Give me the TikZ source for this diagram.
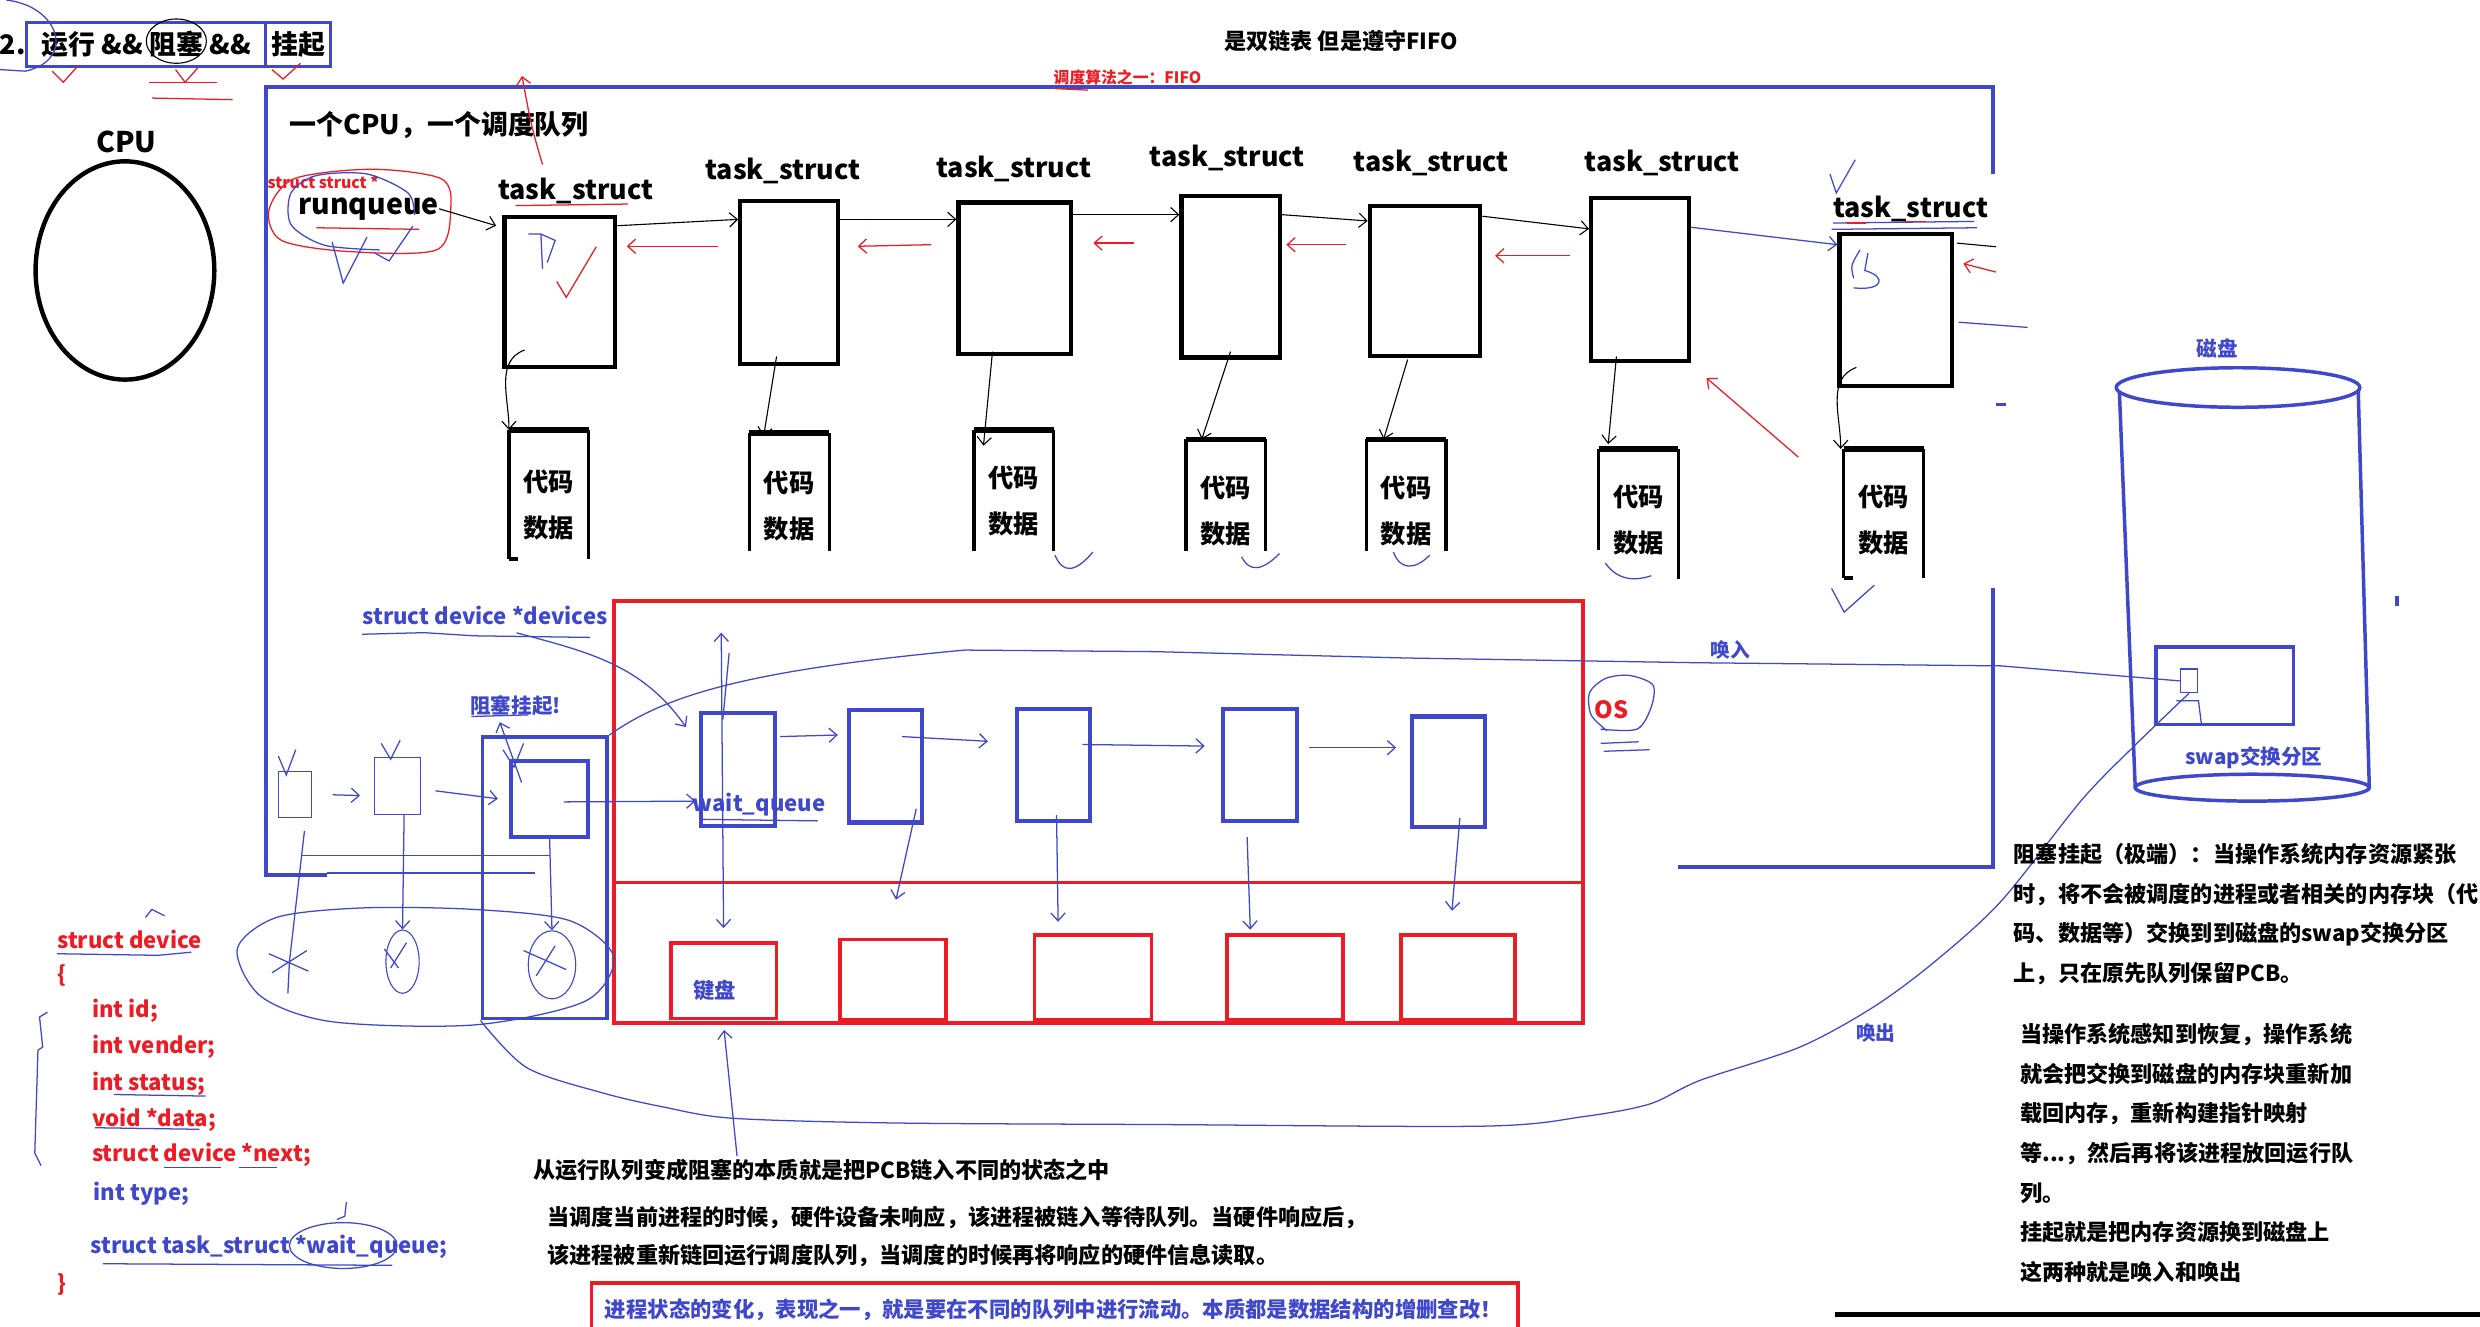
\documentclass[tikz,border=0pt]{standalone}
\usepackage{fontspec}
\setmainfont{Noto Sans CJK SC}
\usetikzlibrary{positioning,arrows.meta,shapes.geometric,calc}
\definecolor{paintblue}{RGB}{63,72,204}
\definecolor{paintred}{RGB}{237,28,36}

\begin{document}
\begin{tikzpicture}[x=1pt,y=-1pt,every node/.style={inner sep=0pt,font=\bfseries},
  txtbig/.style={font=\bfseries\fontsize{17}{20}\selectfont},
  txtmid/.style={font=\bfseries\fontsize{14}{17}\selectfont},
  txtsmall/.style={font=\bfseries\fontsize{10}{12}\selectfont},
  titlebox/.style={draw=paintblue,line width=1.8pt,minimum height=28pt,txtbig},
  tsbox/.style={draw,line width=2.6pt,minimum width=70pt,minimum height=95pt},
  tslabel/.style={font=\bfseries\fontsize{17}{20}\selectfont},
  cdbox/.style={minimum width=50pt},
  cdside/.style={line width=2pt},
  cdtop/.style={line width=3.4pt},
  cdtext/.style={align=center,font=\bfseries\fontsize{16}{29}\selectfont},
  wqbox/.style={draw=paintblue,line width=2.6pt,minimum width=47pt,minimum height=71pt},
  devbox/.style={draw=paintred,line width=2.4pt,minimum height=51pt},
  codeline/.style={anchor=west,font=\bfseries\fontsize{14}{17}\selectfont},
  pen/.style={line width=0.7pt},
  bluepen/.style={draw=paintblue,line width=0.8pt},
  redpen/.style={draw=paintred,line width=0.8pt},
  hand/.style={-{Straight Barb[length=5pt,width=9pt]}},
  diskline/.style={draw=paintblue,line width=2.2pt}]
  \useasboundingbox[fill=white] (0,0) rectangle (1568,839);

  % title
  \node[txtbig] (num) at (8,28) {2.};
  \node[titlebox,minimum width=151pt] (tb1) at (92.5,28) {运行 \&\& 阻塞 \&\&};
  \node[titlebox,minimum width=41pt] (tb2) at (188.5,28) {挂起};
  \draw[pen] (111.5,26) ellipse (19 and 14);
  \draw[bluepen] (4,0) .. controls (38,4) and (48,38) .. (16,45) -- (0,44);
  \draw[redpen] (33,45) -- (40,52) -- (49,42);
  \draw[redpen] (111,44) -- (117,52) -- (125,43);
  \draw[redpen] (94,52) -- (137,52);
  \draw[redpen] (96,62) -- (147,63);
  \draw[redpen] (172,44) -- (179,50) -- (190,40);

  % cpu
  \node[font=\bfseries\fontsize{18}{20}\selectfont] (cpulbl) at (80,90) {CPU};
  \node[draw,ellipse,line width=2.8pt,minimum width=113pt,minimum height=138pt] (cpu) at (79,171) {};

  % memory frame
  \draw[paintblue,line width=2.4pt] (1260,110) -- (1260,55) -- (168,55) -- (168,553) -- (207,553);
  \draw[paintblue,line width=2.4pt] (1260,372) -- (1260,548) -- (1061,548);

  % top notes
  \node[txtmid] (dll) at (848,26) {是双链表 但是遵守FIFO};
  \node[txtsmall,text=paintred,anchor=west] (fifo) at (666,49) {调度算法之一：FIFO};
  \draw[redpen] (667,56) -- (688,57);
  \node[txtbig,anchor=west] (onecpu) at (183,79) {一个CPU，一个调度队列};
  \coordinate (rtail) at (343,104);
  \draw[redpen,hand] (rtail) .. controls (336,80) .. (330,48);

  % runqueue
  \node[txtsmall,text=paintred,anchor=west] (rqtype) at (169,115) {struct struct *};
  \node[font=\bfseries\fontsize{18}{20}\selectfont] (rq) at (233,132) {runqueue};
  \draw[redpen] plot[smooth cycle] coordinates {(170,133) (186,113) (235,107) (279,113) (285,132) (276,158) (220,159) (178,152)};
  \draw[bluepen] plot[smooth] coordinates {(240,158) (205,155) (184,142) (184,122) (200,111) (232,110) (258,122) (262,136)};
  \draw[redpen] (200,144) -- (265,145);
  \draw[bluepen] (210,153) -- (217,179) -- (232,150);
  \draw[bluepen] (237,160) -- (246,165) -- (261,143);

  % task_struct queue
  \node[tsbox] (ts1) at (354,184.5) {};
  \node[tsbox,minimum width=62pt,minimum height=103pt] (ts2) at (499,178.5) {};
  \node[tsbox,minimum width=71pt,minimum height=96pt] (ts3) at (641.5,176) {};
  \node[tsbox,minimum width=62pt,minimum height=102pt] (ts4) at (778,175) {};
  \node[tsbox] (ts5) at (901,177.5) {};
  \node[tsbox,minimum width=62pt,minimum height=103pt] (ts6) at (1037,176.5) {};
  \node[tsbox,minimum width=71pt,minimum height=96pt] (ts7) at (1198.5,196) {};
  \node[tslabel] (tl1) at (364,121) {task\_struct};
  \node[tslabel] (tl2) at (495,108) {task\_struct};
  \node[tslabel] (tl3) at (641,107) {task\_struct};
  \node[tslabel] (tl4) at (776,100) {task\_struct};
  \node[tslabel] (tl5) at (905,103) {task\_struct};
  \node[tslabel] (tl6) at (1051,103) {task\_struct};
  \node[tslabel] (tl7) at (1208,132) {task\_struct};

  \draw[pen,hand] (rq.east) -- ($(ts1.north west)+(-4,7)$);
  \draw[pen,hand] ($(ts1.north east)+(0,7)$) -- ($(ts2.north west)+(0,13)$);
  \draw[pen,hand] ($(ts2.north east)+(0,13)$) -- ($(ts3.north west)+(0,12)$);
  \draw[pen,hand] ($(ts3.north east)+(0,9)$) -- ($(ts4.north west)+(0,13)$);
  \draw[pen,hand] ($(ts4.north east)+(0,13)$) -- ($(ts5.north west)+(0,11)$);
  \draw[pen,hand] ($(ts5.north east)+(0,8)$) -- ($(ts6.north west)+(0,21)$);
  \draw[bluepen,hand] ($(ts6.north east)+(0,20)$) -- ($(ts7.north west)+(0,8)$);
  \coordinate (qend) at (1262,156);
  \draw[pen] ($(ts7.north east)+(2,7)$) -- (qend);
  \draw[redpen,hand] ($(ts2.north west)+(-13,30)$) -- ($(ts1.north east)+(6,20)$);
  \draw[redpen,hand] ($(ts3.north west)+(-16,28)$) -- ($(ts2.north east)+(11,30)$);
  \draw[redpen,hand] ($(ts4.north west)+(-29,31)$) -- ($(ts3.north east)+(13,27)$);
  \draw[redpen,hand] ($(ts5.north west)+(-14,26)$) -- ($(ts4.north east)+(3,32)$);
  \draw[redpen,hand] ($(ts6.north west)+(-12,38)$) -- ($(ts5.north east)+(8,33)$);
  \coordinate (rend) at (1262,172);
  \draw[redpen,hand] (rend) -- ($(ts7.north east)+(6,20)$);
  \coordinate (rtail2) at (1137,289);
  \coordinate (rtip2) at (1079,239);
  \draw[redpen,hand] (rtail2) -- (rtip2);
  \coordinate (bend) at (1282,207);
  \draw[bluepen] ($(ts7.north east)+(3,57)$) -- (bend);

  % scribbles on the queue
  \draw[bluepen] (343,170) -- (342,148) -- (334,148) (342,148) -- (351,152) -- (346,166);
  \draw[redpen] (352,178) -- (358,188) -- (377,156);
  \draw[redpen] (326,130) -- (397,129);
  \draw[bluepen] (1176,158) .. controls (1170,168) .. (1172,176);
  \draw[bluepen] (1181,160) -- (1179,171) .. controls (1193,175) and (1191,184) .. (1172,182);
  \draw[bluepen] (1157,110) -- (1161,122) -- (1173,101);
  \draw[bluepen] (1159,141) -- (1248,140);
  \draw[bluepen] (1158,145) -- (1250,144);
  \draw[redpen] (1168,141) -- (1180,141) (1203,140) -- (1218,140);

  % code and data
  \node[cdbox,minimum height=81pt] (cd1) at (347,312.5) {};
  \node[cdbox,minimum height=74pt] (cd2) at (499,311) {};
  \node[cdbox,minimum height=76pt] (cd3) at (641,310) {};
  \node[cdbox,minimum height=70pt] (cd4) at (775,313) {};
  \node[cdbox,minimum height=70pt] (cd5) at (889,313) {};
  \node[cdbox,minimum height=82pt] (cd6) at (1036,325) {};
  \node[cdbox,minimum height=81pt] (cd7) at (1191,324.5) {};
  \draw[cdside] (cd1.south west) -- (cd1.north west) (cd1.north east) -- (cd1.south east);
  \draw[cdside] (cd2.south west) -- (cd2.north west) (cd2.north east) -- (cd2.south east);
  \draw[cdside] (cd3.south west) -- (cd3.north west) (cd3.north east) -- (cd3.south east);
  \draw[cdside] (cd4.south west) -- (cd4.north west) (cd4.north east) -- (cd4.south east);
  \draw[cdside] (cd5.south west) -- (cd5.north west) (cd5.north east) -- (cd5.south east);
  \draw[cdside] ($(cd6.north west)+(0,64)$) -- (cd6.north west) (cd6.north east) -- (cd6.south east);
  \draw[cdside] (cd7.south west) -- (cd7.north west) (cd7.north east) -- (cd7.south east);
  \draw[cdtop] (cd1.north west) -- (cd1.north east);
  \draw[cdtop] (cd2.north west) -- (cd2.north east);
  \draw[cdtop] (cd3.north west) -- (cd3.north east);
  \draw[cdtop] (cd4.north west) -- (cd4.north east);
  \draw[cdtop] (cd5.north west) -- (cd5.north east);
  \draw[cdtop] (cd6.north west) -- (cd6.north east);
  \draw[cdtop] (cd7.north west) -- (cd7.north east);
  \draw[line width=2.4pt] (cd1.south west) -- +(6,0);
  \draw[line width=2.4pt] (cd7.south west) -- +(6,0);
  \node[cdtext] (cdt1) at (347,319) {代码\\数据};
  \node[cdtext] (cdt2) at (499,320) {代码\\数据};
  \node[cdtext] (cdt3) at (641,317) {代码\\数据};
  \node[cdtext] (cdt4) at (775,323) {代码\\数据};
  \node[cdtext] (cdt5) at (889,323) {代码\\数据};
  \node[cdtext] (cdt6) at (1036,329) {代码\\数据};
  \node[cdtext] (cdt7) at (1191,329) {代码\\数据};

  \draw[pen,hand] ($(ts1.south west)+(14,-12)$) to[out=200,in=90] (cd1.north west);
  \draw[pen,hand] ($(ts2.south)+(-8,-6)$) -- ($(cd2.north west)+(9,2)$);
  \draw[pen,hand] ($(ts3.south)+(-14,-3)$) -- ($(cd3.north west)+(6,10)$);
  \draw[pen,hand] ($(ts4.south)+(0,-5)$) -- ($(cd4.north west)+(10,0)$);
  \draw[pen,hand] ($(ts5.south)+(-11,1)$) -- ($(cd5.north west)+(11,0)$);
  \draw[pen,hand] ($(ts6.south)+(-15,-4)$) -- ($(cd6.north west)+(6,-3)$);
  \draw[pen,hand] ($(ts7.south west)+(12,-13)$) to[out=200,in=90] ($(cd7.north west)+(-2,0)$);

  \draw[bluepen] (667,351) .. controls (672,363) and (680,362) .. (691,349);
  \draw[bluepen] (785,352) .. controls (790,362) and (798,361) .. (809,350);
  \draw[bluepen] (881,349) .. controls (885,360) and (894,361) .. (904,351);
  \draw[bluepen] (1015,356) .. controls (1022,366) and (1032,368) .. (1044,364);
  \draw[bluepen] (1158,372) -- (1166,387) -- (1185,370);

  % devices and their wait queues
  \node[draw=paintred,line width=2.4pt,minimum width=613pt,minimum height=267pt] (devarea) at (694.5,513.5) {};
  \draw[paintred,line width=2.4pt] ($(devarea.west)+(0,44.5)$) -- ($(devarea.east)+(0,44.5)$);
  \node[wqbox] (wq1) at (466.5,486.5) {};
  \node[wqbox,minimum width=46pt] (wq2) at (560,484.5) {};
  \node[wqbox,minimum width=46pt] (wq3) at (666,483.5) {};
  \node[wqbox] (wq4) at (796.5,483.5) {};
  \node[wqbox,minimum width=46pt,minimum height=70pt] (wq5) at (916,488) {};
  \node[devbox,minimum width=67pt,minimum height=48pt] (dv1) at (457.5,620) {};
  \node[devbox,minimum width=67pt] (dv2) at (564.5,619.5) {};
  \node[devbox,minimum width=74pt,minimum height=54pt] (dv3) at (691,618) {};
  \node[devbox,minimum width=73pt,minimum height=54pt] (dv4) at (812.5,618) {};
  \node[devbox,minimum width=72pt,minimum height=54pt] (dv5) at (922,618) {};
  \node[text=paintblue,font=\bfseries\fontsize{13.5}{16}\selectfont] (kbd) at (452,626) {键盘};

  \draw[bluepen,hand] ($(wq1.north east)+(2,16)$) -- ($(wq2.north west)+(-6,17)$);
  \draw[bluepen,hand] ($(wq2.north east)+(-14,18)$) -- ($(wq3.north west)+(-17,22)$);
  \draw[bluepen,hand] ($(wq3.north east)+(-6,24)$) -- ($(wq4.north west)+(-10,25)$);
  \draw[bluepen,hand] ($(wq4.north east)+(6,26)$) -- ($(wq5.north west)+(-9,21)$);
  \coordinate (wqtop) at (456,400);
  \draw[bluepen,{Straight Barb[length=5pt,width=9pt]}-{Straight Barb[length=5pt,width=9pt]}] (wqtop) -- ($(dv1.north)+(0,-8)$);
  \draw[bluepen] (461,413) -- (457,455);
  \draw[bluepen,hand] ($(wq2.south east)+(-5,-10)$) -- ($(dv2.north)+(2,-24)$);
  \draw[bluepen,hand] ($(wq3.south)+(2,-5)$) -- ($(dv3.north)+(-22,-7)$);
  \draw[bluepen,hand] ($(wq4.south)+(-8,9)$) -- ($(dv4.north)+(-22,-2)$);
  \draw[bluepen,hand] ($(wq5.south)+(7,-7)$) -- ($(dv5.north)+(-4,-14)$);

  % blocked and suspended
  \node[draw=paintblue,line width=2.4pt,minimum width=79pt,minimum height=178pt] (hold) at (344.5,555) {};
  \node[draw=paintblue,line width=2.4pt,minimum width=49pt,minimum height=48pt] (pcb) at (347.5,505) {};
  \node[text=paintblue,font=\bfseries\fontsize{13}{15}\selectfont] (holdlbl) at (326,446) {阻塞挂起!};
  \draw[bluepen] (298,453) -- (334,452);
  \draw[bluepen,hand] ($(pcb.north west)+(8,15)$) -- ($(holdlbl.south)+(-10,4)$);
  \draw[bluepen,hand] ($(pcb.center)+(9,2)$) -- ($(wq1.west)+(-2,20)$);
  \node[text=paintblue,txtmid] (wqlbl) at (480,509) {wait\_queue};
  \draw[bluepen] (442,518) -- (517,519);

  \node[draw=paintblue,line width=0.7pt,minimum width=21pt,minimum height=29pt] (da) at (186.5,502.5) {};
  \node[draw=paintblue,line width=0.7pt,minimum width=29pt,minimum height=36pt] (db) at (251.5,497) {};
  \draw[bluepen,hand] ($(da.east)+(13,0)$) -- ($(db.west)+(-9,6)$);
  \draw[bluepen,hand] ($(db.east)+(9,3)$) -- ($(pcb.west)+(-7,0)$);
  \draw[bluepen] (176,478) -- (181,490) -- (187,474);
  \draw[bluepen] (241,470) -- (247,480) -- (253,468);
  \draw[bluepen] (318,474) -- (325,485) -- (331,470);
  \draw[bluepen] (191,541) -- (348,541);
  \draw[bluepen] (207,552) -- (338,552);

  \coordinate (x1) at (183,608);
  \node[draw=paintblue,line width=0.7pt,ellipse,minimum width=21pt,minimum height=40pt] (x2) at (254.5,608) {};
  \node[draw=paintblue,line width=0.7pt,ellipse,minimum width=30pt,minimum height=43pt] (x3) at (349,610) {};
  \draw[bluepen] plot[smooth cycle] coordinates {(150,600) (175,580) (230,574) (300,575) (360,582) (388,605) (370,633) (300,648) (210,646) (165,630)};
  \draw[bluepen] ($(da.south)+(6,8)$) -- (x1) -- +(-1,20);
  \draw[bluepen,hand] ($(db.south)+(4,0)$) -- (x2.north);
  \draw[bluepen,hand] (pcb.south) -- (x3.north);
  \draw[bluepen] (170,603) -- (195,614) (172,615) -- (194,601);
  \draw[bluepen] (243,600) -- (252,612) (247,612) -- (257,596);
  \draw[bluepen] (331,601) -- (358,613) (339,617) -- (351,598);

  \node[text=paintblue,txtmid,anchor=west] (devs) at (229,389) {struct device *devices};
  \draw[bluepen] (229,401) -- (268,400) -- (300,402) -- (373,403);
  \draw[bluepen,hand] ($(devs.south)+(20,5)$) to[out=-15,in=125] ($(wq1.north west)+(-8,10)$);

  % swap in and swap out
  \node[draw=paintblue,line width=0.7pt,minimum width=11pt,minimum height=15pt] (swapsq) at (1384,430.5) {};
  \draw[bluepen] (hold.north east) .. controls (420,440) and (470,424) .. (610,411) -- (730,412) -- (888,416) -- (1072,419) -- (1265,421) -- (swapsq.west);
  \node[text=paintblue,font=\bfseries\fontsize{12.5}{15}\selectfont] (swapin) at (1094,411) {唤入};
  \draw[bluepen] plot[smooth,tension=0.5] coordinates {(swapsq.south) (1349,472) (1316,506) (1265,570) (1222,609) (1184,637) (1138,662) (1075,683) (1043,698) (1001,706) (938,712) (735,711) (565,710) (463,707) (420,700) (381,691) (333,675) (hold.south west)};
  \node[text=paintblue,font=\bfseries\fontsize{12.5}{15}\selectfont] (swapout) at (1186,653) {唤出};

  \node[text=paintred,font=\bfseries\fontsize{15}{18}\selectfont] (os) at (1019,449) {OS};
  \draw[bluepen] plot[smooth] coordinates {(1016,462) (1006,452) (1005,438) (1015,429) (1030,427) (1045,433) (1044,447) (1035,461) (1012,461)};
  \draw[bluepen] (1012,470) -- (1036,469) (1014,475) -- (1043,474);

  % disk
  \node[text=paintblue,font=\bfseries\fontsize{13}{15}\selectfont] (disklbl) at (1402,220) {磁盘};
  \draw[diskline] (1415,245) ellipse (77 and 12.5);
  \draw[diskline] (1340,248) -- (1350,498);
  \draw[diskline] (1491,247) -- (1498,498);
  \draw[diskline] (1424,498) ellipse (74 and 8.5);
  \node[draw=paintblue,line width=2.2pt,minimum width=87pt,minimum height=49pt] (swap) at (1406.5,433.5) {};
  \node[text=paintblue,font=\bfseries\fontsize{13}{15}\selectfont] (swaplbl) at (1425,479) {swap交换分区};
  \draw[bluepen] (1376,443) -- (1390,443) -- (1392,459);
  \draw[paintblue,line width=2pt] (1262,256) -- (1268,256);
  \fill[paintblue] (1514,377) rectangle (1517,383);

  % struct device
  \node[codeline,text=paintred] (sdev) at (36,594) {struct device};
  \node[codeline,text=paintred] (sopen) at (36,617) {\{};
  \node[codeline,text=paintred] (sid) at (58,639) {int id;};
  \node[codeline,text=paintred] (svend) at (58,662) {int vender;};
  \node[codeline,text=paintred] (sstat) at (58,685) {int status;};
  \node[codeline,text=paintred] (sdata) at (58,708) {void *data;};
  \node[codeline,text=paintred] (snext) at (58,730) {struct device *next;};
  \node[codeline,text=paintblue] (stype) at (59,755) {int type;};
  \node[codeline,text=paintblue] (swait) at (57,788) {struct task\_struct *wait\_queue;};
  \node[codeline,text=paintred] (sclose) at (36,812) {\}};
  \draw[bluepen] (36,603) -- (100,604) -- (121,602);
  \draw[bluepen] (72,692) -- (130,693);
  \draw[bluepen] (60,713) -- (126,714);
  \draw[bluepen] (104,738) -- (140,738) (151,738) -- (175,738);
  \draw[bluepen] (65,799) -- (248,800);
  \draw[bluepen] (30,640) -- (25,643) -- (27,662) -- (24,664) -- (22,729) -- (26,737);
  \draw[bluepen] (217,787.5) ellipse (34 and 14.5);
  \draw[bluepen] (219,760) -- (218,769) -- (213,771);
  \draw[bluepen] (92,580) -- (96,575) -- (104,579);

  % notes below
  \node[txtmid,anchor=west] (ess) at (337,740) {从运行队列变成阻塞的本质就是把PCB链入不同的状态之中};
  \node[txtmid,anchor=west] (why1) at (346,770) {当调度当前进程的时候，硬件设备未响应，该进程被链入等待队列。当硬件响应后，};
  \node[txtmid,anchor=west] (why2) at (346,794) {该进程被重新链回运行调度队列，当调度的时候再将响应的硬件信息读取。};
  \draw[bluepen,hand] ($(ess.north west)+(129,-2)$) -- ($(devarea.south west)+(71,3)$);
  \node[draw=paintred,line width=2.4pt,minimum width=586pt,minimum height=40pt] (moral) at (667,831) {};
  \node[text=paintblue,font=\bfseries\fontsize{13.5}{16}\selectfont] (moraltxt) at (666,828) {进程状态的变化，表现之一，就是要在不同的队列中进行流动。本质都是数据结构的增删查改！};

  % notes on the right
  \node[anchor=north west,align=left,font=\bfseries\fontsize{14}{25}\selectfont] (suspend) at (1273,533) {阻塞挂起（极端）：当操作系统内存资源紧张\\时，将不会被调度的进程或者相关的内存块（代\\码、数据等）交换到到磁盘的swap交换分区\\上，只在原先队列保留PCB。};
  \node[anchor=north west,align=left,font=\bfseries\fontsize{14}{25}\selectfont] (resume) at (1277,647) {当操作系统感知到恢复，操作系统\\就会把交换到磁盘的内存块重新加\\载回内存，重新构建指针映射\\等...，然后再将该进程放回运行队\\列。\\挂起就是把内存资源换到磁盘上\\这两种就是唤入和唤出};
  \draw[line width=3pt] (1160,831) -- (1568,831);
\end{tikzpicture}
\end{document}
